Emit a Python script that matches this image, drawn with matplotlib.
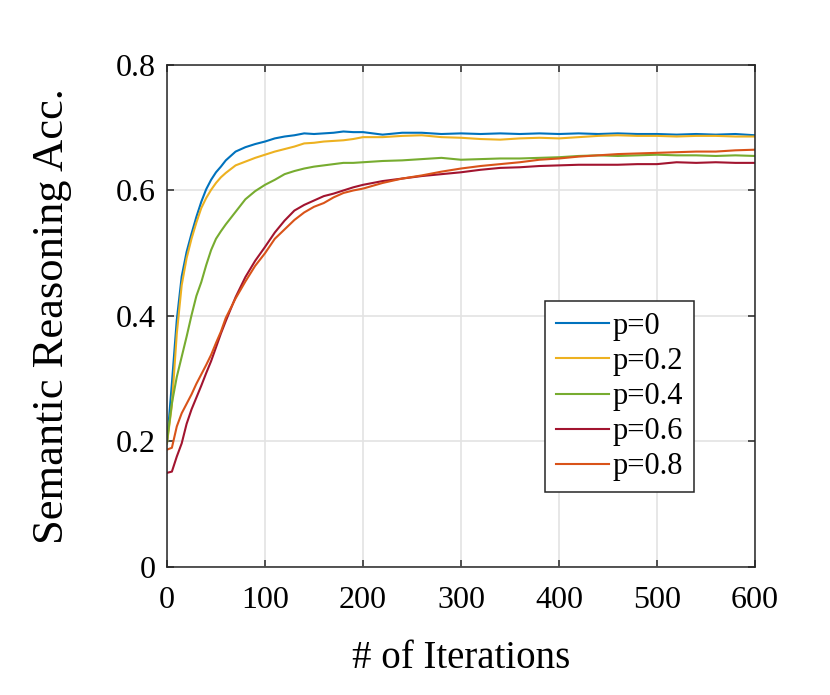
import numpy as np
import matplotlib
matplotlib.use('Agg')
import matplotlib.pyplot as plt

plt.rcParams['font.family'] = ['Liberation Serif', 'DejaVu Serif']

# Values
iters = [0, 5, 10, 15, 20, 25, 30, 35, 40, 45, 50, 55, 60,
         70, 80, 90, 100, 110, 120, 130, 140, 150, 160, 170, 180, 190, 200,
         220, 240, 260, 280, 300, 320, 340, 360, 380, 400, 420, 440, 460,
         480, 500, 520, 540, 560, 580, 600]

acc_p0 = [0.197, 0.293, 0.394, 0.463, 0.502, 0.531, 0.558, 0.582, 0.602, 0.617,
          0.629, 0.638, 0.648,
          0.662, 0.669, 0.674, 0.678, 0.683, 0.686, 0.688, 0.691, 0.690, 0.691,
          0.692, 0.694, 0.693, 0.693,
          0.689, 0.692, 0.692, 0.690, 0.691, 0.690, 0.691, 0.690, 0.691, 0.690,
          0.691, 0.690, 0.691, 0.690, 0.690, 0.689, 0.690, 0.689, 0.690, 0.688]

acc_p02 = [0.197, 0.258, 0.372, 0.449, 0.492, 0.523, 0.549, 0.572, 0.588, 0.601,
           0.612, 0.621, 0.628,
           0.640, 0.646, 0.652, 0.657, 0.662, 0.666, 0.670, 0.675, 0.676, 0.678,
           0.679, 0.680, 0.682, 0.685,
           0.685, 0.687, 0.688, 0.685, 0.684, 0.682, 0.681, 0.683, 0.684, 0.683,
           0.685, 0.687, 0.688, 0.687, 0.687, 0.686, 0.687, 0.687, 0.686, 0.686]

acc_p04 = [0.200, 0.261, 0.303, 0.335, 0.367, 0.401, 0.432, 0.454, 0.481, 0.505,
           0.523, 0.535, 0.546,
           0.566, 0.586, 0.599, 0.609, 0.617, 0.626, 0.631, 0.635, 0.638, 0.640,
           0.642, 0.644, 0.644, 0.645,
           0.647, 0.648, 0.650, 0.652, 0.649, 0.650, 0.651, 0.651, 0.652, 0.653,
           0.655, 0.656, 0.655, 0.656, 0.657, 0.656, 0.656, 0.655, 0.656, 0.655]

acc_p06 = [0.150, 0.152, 0.176, 0.197, 0.228, 0.251, 0.270, 0.289, 0.309, 0.328,
           0.350, 0.372, 0.392,
           0.430, 0.462, 0.488, 0.510, 0.533, 0.552, 0.568, 0.577, 0.584, 0.591,
           0.595, 0.600, 0.605, 0.609,
           0.615, 0.619, 0.623, 0.626, 0.629, 0.633, 0.636, 0.637, 0.639, 0.640,
           0.641, 0.641, 0.641, 0.642, 0.642, 0.645, 0.644, 0.645, 0.644, 0.644]

acc_p08 = [0.187, 0.190, 0.224, 0.245, 0.260, 0.275, 0.292, 0.307, 0.322, 0.338,
           0.357, 0.375, 0.397,
           0.428, 0.455, 0.480, 0.500, 0.523, 0.538, 0.553, 0.565, 0.574, 0.580,
           0.589, 0.596, 0.600, 0.603,
           0.612, 0.619, 0.624, 0.630, 0.635, 0.639, 0.642, 0.645, 0.649, 0.651,
           0.654, 0.656, 0.658, 0.659, 0.660, 0.661, 0.662, 0.662, 0.664, 0.665]

labels = ['p=0', 'p=0.2', 'p=0.4', 'p=0.6', 'p=0.8']
colors = ['#0072BD', '#EDB120', '#77AC30', '#A2142F', '#D95319']
series = [acc_p0, acc_p02, acc_p04, acc_p06, acc_p08]

fig = plt.figure(figsize=(8.3, 6.95), dpi=100)
ax = fig.add_axes([0.2012, 0.1842, 0.7084, 0.7223])

for vals, lab, col in zip(series, labels, colors):
    ax.plot(iters, vals, color=col, linewidth=1.5, label=lab)

ax.set_xlim(0, 600)
ax.set_ylim(0, 0.8)
ax.set_xticks(np.arange(0, 601, 100))
ax.set_yticks([0, 0.2, 0.4, 0.6, 0.8])
ax.set_yticklabels(['0', '0.2', '0.4', '0.6', '0.8'])

ax.grid(True, color='#e3e3e3', linewidth=1.2)
ax.set_axisbelow(True)
for sp in ax.spines.values():
    sp.set_color('#262626')
    sp.set_linewidth(1.1)
ax.tick_params(direction='in', length=5, width=1.1, color='#262626',
               labelsize=23, top=True, right=True)
ax.tick_params(axis='y', pad=8)
ax.tick_params(axis='x', pad=14)

ax.set_xlabel('# of Iterations', fontsize=28)
ax.set_ylabel('Semantic Reasoning Acc.', fontsize=32)
ax.xaxis.set_label_coords(0.5, -0.182)
ax.xaxis.label.set_va('center')
ax.yaxis.set_label_coords(-0.195, 0.5)
ax.yaxis.label.set_va('center')

leg = ax.legend(loc='lower left', bbox_to_anchor=(0.643, 0.149), fontsize=22,
                handlelength=1.75, handletextpad=0.12, labelspacing=0.2,
                borderpad=0.35, borderaxespad=0, fancybox=False, framealpha=1)
leg.get_frame().set_edgecolor('#262626')
leg.get_frame().set_linewidth(1.1)

fig.savefig('out.png', dpi=100)
